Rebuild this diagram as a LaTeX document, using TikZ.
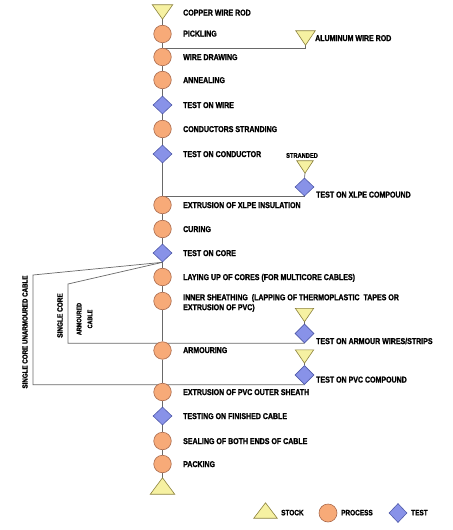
\documentclass[tikz,border=0pt]{standalone}
\usepackage{fontspec}
\setmainfont{Liberation Sans}[FakeStretch=0.83, UprightFont={* Bold}, BoldFont={* Bold}, FakeBold=1.3]
\usetikzlibrary{shapes.geometric,backgrounds}
\definecolor{stockfill}{RGB}{246,241,162}
\definecolor{stockdraw}{RGB}{140,130,60}
\definecolor{procfill}{RGB}{247,170,120}
\definecolor{procdraw}{RGB}{170,105,75}
\definecolor{testfill}{RGB}{136,146,232}
\definecolor{testdraw}{RGB}{80,90,170}
\definecolor{linecol}{RGB}{105,105,105}
\begin{document}
\begin{tikzpicture}[x=1bp,y=-1bp,
  proc/.style={circle,draw=procdraw,fill=procfill,line width=0.6bp,minimum size=17.5bp,inner sep=0},
  testnode/.style={diamond,draw=testdraw,fill=testfill,line width=0.6bp,minimum width=19bp,minimum height=18bp,inner sep=0},
  stockbox/.style={rectangle,draw=none,inner sep=0,minimum width=20bp,minimum height=14bp},
  stockshape/.style={draw=stockdraw,fill=stockfill,line width=0.6bp,line join=miter},
  conn/.style={draw=linecol,line width=0.7bp},
  lab/.style={anchor=west,inner sep=0,font=\fontsize{8.5}{10}\selectfont,text height=6.1bp,text depth=0bp},
  rot/.style={inner sep=0,rotate=90,font=\fontsize{7.5}{11}\selectfont,align=center},
  leg/.style={anchor=west,inner sep=0,font=\fontsize{7.8}{9}\selectfont,text height=5.6bp,text depth=0bp}]
\useasboundingbox (0,0) rectangle (453,530);

% main column
\node[stockbox] (copper) at (162.5,12) {};
\node[proc] (pickling) at (162.5,34) {};
\node[proc] (wiredraw) at (162.5,57) {};
\node[proc] (annealing) at (162.5,80) {};
\node[testnode] (testwire) at (162.5,105) {};
\node[proc] (stranding) at (162.5,129) {};
\node[testnode] (testcond) at (162.5,154) {};
\node[proc] (xlpe) at (162.5,205) {};
\node[proc] (curing) at (162.5,229) {};
\node[testnode] (testcore) at (162.5,253) {};
\node[proc] (layup) at (162.5,277) {};
\node[proc] (inner) at (162.5,301) {};
\node[proc] (armouring) at (162.5,350.5) {};
\node[proc] (pvcsheath) at (162.5,392) {};
\node[testnode] (testfin) at (162.5,416) {};
\node[proc] (sealing) at (162.5,441) {};
\node[proc] (packing) at (162.5,464) {};
\node[stockbox,minimum width=24bp,minimum height=16bp] (endstock) at (162.5,486) {};

% right column
\node[stockbox,minimum width=19bp,minimum height=14bp] (alu) at (305.5,38) {};
\node[stockbox,minimum width=16bp,minimum height=12bp] (strandstock) at (305,167) {};
\node[testnode,minimum height=18bp] (xlpetest) at (304.5,187) {};
\node[stockbox,minimum width=18bp,minimum height=13bp] (armstock) at (304.5,315) {};
\node[testnode,minimum height=19bp] (armtest) at (304.5,333.5) {};
\node[stockbox,minimum width=18bp,minimum height=13bp] (pvcstock) at (304.5,356.5) {};
\node[testnode,minimum height=19bp] (pvctest) at (304.5,375) {};

% bend points of the bypass lines
\coordinate (ubend) at (33,275);
\coordinate (abend) at (68,284);

% triangles
\draw[stockshape] (copper.north west) -- (copper.north east) -- (copper.south) -- cycle;
\draw[stockshape] (endstock.south west) -- (endstock.south east) -- (endstock.north) -- cycle;
\draw[stockshape] (alu.north west) -- (alu.north east) -- (alu.south) -- cycle;
\draw[stockshape] (strandstock.north west) -- (strandstock.north east) -- (strandstock.south) -- cycle;
\draw[stockshape] (armstock.north west) -- (armstock.north east) -- (armstock.south) -- cycle;
\draw[stockshape] (pvcstock.north west) -- (pvcstock.north east) -- (pvcstock.south) -- cycle;

\begin{scope}[on background layer]
\fill[white] (0,0) rectangle (453,530);
\draw[conn] (copper.south) -- (pickling) -- (wiredraw) -- (annealing) -- (testwire) -- (stranding) -- (testcond) -- (xlpe) -- (curing) -- (testcore) -- (layup) -- (inner) -- (armouring) -- (pvcsheath) -- (testfin) -- (sealing) -- (packing) -- (endstock.north);
\draw[conn] (alu.south) |- (wiredraw.north);
\draw[conn] (strandstock.south) -- (xlpetest.north);
\draw[conn] (xlpetest.south) -- (xlpetest.south -| xlpe.north);
\draw[conn] (armstock.south) -- (armtest.north);
\draw[conn] (pvcstock.south) -- (pvctest.north);
\draw[conn] (testcore.south) -- (ubend) |- (pvctest.south);
\draw[conn] (testcore.south) -- (abend) |- (armtest.south);
\end{scope}

% labels
\node[lab] (tcopper) at (183,12.5) {COPPER WIRE ROD};
\node[lab] (tpickling) at (183,33.5) {PICKLING};
\node[lab] (twiredraw) at (183,57) {WIRE DRAWING};
\node[lab] (tannealing) at (183,80) {ANNEALING};
\node[lab] (ttestwire) at (183,105) {TEST ON WIRE};
\node[lab] (tstranding) at (183,129) {CONDUCTORS STRANDING};
\node[lab] (ttestcond) at (183,154) {TEST ON CONDUCTOR};
\node[lab] (txlpe) at (183,205) {EXTRUSION OF XLPE INSULATION};
\node[lab] (tcuring) at (183,229) {CURING};
\node[lab] (ttestcore) at (183,253) {TEST ON CORE};
\node[lab] (tlayup) at (183,277) {LAYING UP OF CORES (FOR MULTICORE CABLES)};
\node[anchor=west,inner sep=0,font=\fontsize{8.5}{10}\selectfont,align=left] (tinner) at (183,303) {INNER SHEATHING \ (LAPPING OF THERMOPLASTIC \ TAPES OR\\EXTRUSION OF PVC)};
\node[lab] (tarmouring) at (183,350) {ARMOURING};
\node[lab] (tpvcsheath) at (183,392) {EXTRUSION OF PVC OUTER SHEATH};
\node[lab] (ttestfin) at (183,416) {TESTING ON FINISHED CABLE};
\node[lab] (tsealing) at (183,441) {SEALING OF BOTH ENDS OF CABLE};
\node[lab] (tpacking) at (183,464) {PACKING};

\node[lab] (talu) at (315,38) {ALUMINUM WIRE ROD};
\node[inner sep=0,font=\fontsize{6.9}{8}\selectfont] (tstranded) at (302,155.5) {STRANDED};
\node[lab] (txlpetest) at (316,194.5) {TEST ON XLPE COMPOUND};
\node[lab] (tarmtest) at (316,341) {TEST ON ARMOUR WIRES/STRIPS};
\node[lab] (tpvctest) at (316,379.5) {TEST ON PVC COMPOUND};

\node[rot] (tunarm) at (25,332) {SINGLE CORE UNARMOURED CABLE};
\node[rot,font=\fontsize{7.8}{9}\selectfont] (tsingle) at (60,315.5) {SINGLE CORE};
\node[rot,font=\fontsize{6.6}{11}\selectfont] (tarmoured) at (84.5,319) {ARMOURED\\CABLE};

% legend
\node[stockbox,minimum width=23bp,minimum height=15bp] (lstock) at (265.5,510.5) {};
\draw[stockshape] (lstock.south west) -- (lstock.south east) -- (lstock.north) -- cycle;
\node[leg] (tlstock) at (281,512.5) {STOCK};
\node[proc,minimum size=18bp] (lproc) at (328,513) {};
\node[leg] (tlproc) at (341,512.5) {PROCESS};
\node[testnode,minimum width=18bp,minimum height=19bp] (ltest) at (398,513) {};
\node[leg] (tltest) at (411,512.5) {TEST};
\end{tikzpicture}
\end{document}
